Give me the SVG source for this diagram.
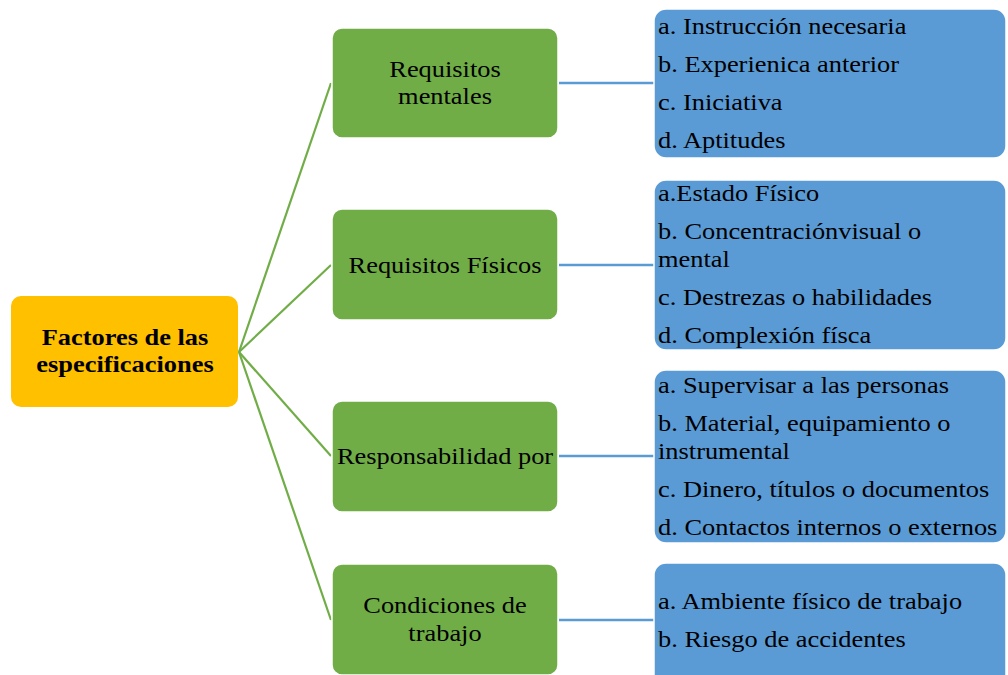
<svg xmlns="http://www.w3.org/2000/svg" width="1008" height="675" viewBox="0 0 1008 675">
<style>
.t{font-family:"Liberation Serif","Times New Roman",serif;font-size:24px;fill:#000}
.b{font-weight:bold}
.m{text-anchor:middle}
.root{fill:#FFC000}
.grn{fill:#70AD47;stroke:#ffffff;stroke-width:1.5}
.blu{fill:#5B9BD5;stroke:#ffffff;stroke-width:1.5}
.cg{stroke:#70AD47;stroke-width:2.2;fill:none}
.cb{stroke:#5B9BD5;stroke-width:2.5;fill:none}
</style>
<rect width="1008" height="675" fill="#ffffff"/>
<g id="connectors">
<line class="cg" x1="239" y1="352" x2="331" y2="83"/>
<line class="cg" x1="239" y1="352" x2="331" y2="265"/>
<line class="cg" x1="239" y1="352" x2="331" y2="456"/>
<line class="cg" x1="239" y1="352" x2="331" y2="620"/>
<line class="cb" x1="559" y1="83" x2="654" y2="83"/>
<line class="cb" x1="559" y1="265" x2="654" y2="265"/>
<line class="cb" x1="559" y1="456" x2="654" y2="456"/>
<line class="cb" x1="559" y1="620" x2="654" y2="620"/>
</g>
<g id="root">
<rect class="root" x="11" y="296" width="227" height="111" rx="10"/>
<g transform="translate(125 0) scale(1.1 1)">
<text class="t b m" x="0" y="345">Factores de las</text>
<text class="t b m" x="0" y="372">especificaciones</text>
</g>
</g>
<g id="n1">
<rect class="grn" x="332" y="28" width="226" height="110" rx="10"/>
<g transform="translate(445 0) scale(1.1 1)">
<text class="t m" x="0" y="77">Requisitos</text>
<text class="t m" x="0" y="104">mentales</text>
</g>
</g>
<g id="n2">
<rect class="grn" x="332" y="209" width="226" height="111" rx="10"/>
<g transform="translate(445 0) scale(1.1 1)">
<text class="t m" x="0" y="273">Requisitos Físicos</text>
</g>
</g>
<g id="n3">
<rect class="grn" x="332" y="401" width="226" height="111" rx="10"/>
<g transform="translate(445 0) scale(1.1 1)">
<text class="t m" x="0" y="464">Responsabilidad por</text>
</g>
</g>
<g id="n4">
<rect class="grn" x="332" y="564" width="226" height="111" rx="10"/>
<g transform="translate(445 0) scale(1.1 1)">
<text class="t m" x="0" y="613">Condiciones de</text>
<text class="t m" x="0" y="641">trabajo</text>
</g>
</g>
<g id="d1">
<rect class="blu" x="654" y="9" width="352" height="149" rx="12"/>
<g transform="translate(658 0) scale(1.1 1)">
<text class="t" x="0" y="34">a. Instrucción necesaria</text>
<text class="t" x="0" y="72">b. Experienica anterior</text>
<text class="t" x="0" y="110">c. Iniciativa</text>
<text class="t" x="0" y="148">d. Aptitudes</text>
</g>
</g>
<g id="d2">
<rect class="blu" x="654" y="180" width="352" height="170" rx="12"/>
<g transform="translate(658 0) scale(1.1 1)">
<text class="t" x="0" y="201">a.Estado Físico</text>
<text class="t" x="0" y="239">b. Concentraciónvisual o</text>
<text class="t" x="0" y="267">mental</text>
<text class="t" x="0" y="305">c. Destrezas o habilidades</text>
<text class="t" x="0" y="343">d. Complexión físca</text>
</g>
</g>
<g id="d3">
<rect class="blu" x="654" y="370" width="352" height="173" rx="12"/>
<g transform="translate(658 0) scale(1.1 1)">
<text class="t" x="0" y="393">a. Supervisar a las personas</text>
<text class="t" x="0" y="431">b. Material, equipamiento o</text>
<text class="t" x="0" y="459">instrumental</text>
<text class="t" x="0" y="497">c. Dinero, títulos o documentos</text>
<text class="t" x="0" y="535">d. Contactos internos o externos</text>
</g>
</g>
<g id="d4">
<rect class="blu" x="654" y="563" width="352" height="125" rx="12"/>
<g transform="translate(658 0) scale(1.1 1)">
<text class="t" x="0" y="609">a. Ambiente físico de trabajo</text>
<text class="t" x="0" y="647">b. Riesgo de accidentes</text>
</g>
</g>
</svg>
